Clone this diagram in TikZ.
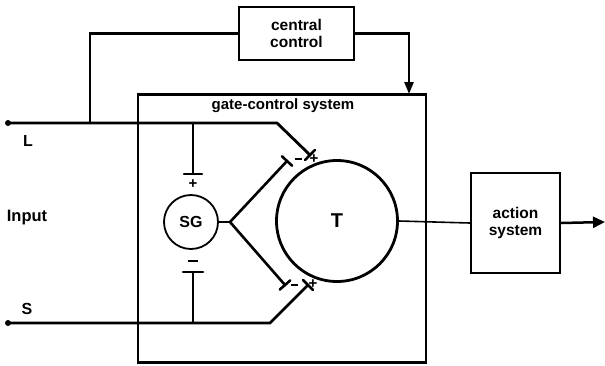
\documentclass[tikz,border=0pt]{standalone}
\usepackage{fontspec}
\setmainfont{Liberation Sans}
\usetikzlibrary{arrows.meta,calc}
\begin{document}
\begin{tikzpicture}[x=1pt,y=-1pt,
  lbl/.style={font=\bfseries\fontsize{15.5}{17}\selectfont, inner sep=0pt, align=center},
  sgn/.style={font=\bfseries\fontsize{15}{15}\selectfont, inner sep=0pt},
  box/.style={draw, line width=2.1pt, inner sep=0pt},
  wire/.style={line width=2.5pt, line join=miter},
  thin wire/.style={line width=1.6pt},
  bar/.style={line width=2.6pt, line cap=round}]
\useasboundingbox (0,0) rectangle (605,365);

% boxes
\node[box, minimum width=115pt, minimum height=53pt, lbl] (cc) at (296.5,33.5) {central\\control};
\node[box, minimum width=288pt, minimum height=268pt] (gcs) at (282,228.5) {};
\node[lbl, font=\bfseries\fontsize{15}{17}\selectfont] (gcsl) at (283,106) {gate-control system};
\node[box, minimum width=89pt, minimum height=100pt, lbl] (act) at (515.5,223) {action\\system};

% cells
\node[circle, draw, line width=1.8pt, minimum size=54pt, inner sep=0pt,
      font=\bfseries\fontsize{16}{16}\selectfont] (SG) at (191,222) {SG};
\node[circle, draw, line width=2.8pt, minimum size=121pt, inner sep=0pt,
      font=\bfseries\fontsize{20}{20}\selectfont] (T) at (337,221) {T};

% input labels
\node[lbl, font=\bfseries\fontsize{16}{16}\selectfont] (Llab) at (28,141) {L};
\node[lbl, font=\bfseries\fontsize{16.5}{17}\selectfont] (inlab) at (27,218) {Input};
\node[lbl, font=\bfseries\fontsize{16}{16}\selectfont] (Slab) at (27,309) {S};

% coordinates
\coordinate (Lin) at (8,123);
\coordinate (Sin) at (8,323);
\coordinate (jL) at (90,123);
\coordinate (Lk) at (277,123);
\coordinate (Sk) at (270,323);
\coordinate (Lend) at (310,155);
\coordinate (Send) at (308,285);
\coordinate (jP) at (193,123);
\coordinate (Ptop) at (193,174);
\coordinate (jN) at (193,323);
\coordinate (Nbot) at (193,272);
\coordinate (fork) at (230,222);
\coordinate (Uend) at (287,161);
\coordinate (Dend) at (285,285);
\coordinate (gin) at (409,94);
\coordinate (out) at (605,222);

% central control feedback
\draw[wire] (cc.west) -| (jL);
\draw[wire, -{Triangle[length=12pt,width=9pt]}] (cc.east) -| (gin);

% L and S fibres
\draw[wire, line width=2.8pt] (Lin) -- (Lk) -- (Lend);
\draw[wire, line width=2.8pt] (Sin) -- (Sk) -- (Send);
\fill (Lin) circle (3pt);
\fill (Sin) circle (3pt);

% branches to SG
\draw[wire] (jP) -- (Ptop);
\draw[bar] ($(Ptop)+(-9,0)$) -- ($(Ptop)+(9,0)$);
\node[sgn] (plus1) at (193,184) {+};
\draw[wire] (jN) -- (Nbot);
\draw[bar] ($(Nbot)+(-10,0)$) -- ($(Nbot)+(10,0)$);
\node[sgn] (minus1) at (193,261) {\rule{10pt}{2.8pt}};

% SG output
\draw[thin wire] (SG.east) -- (fork);
\draw[wire, line width=2.6pt] (fork) -- (Uend);
\draw[wire, line width=2.6pt] (fork) -- (Dend);

% synapse bars
\draw[bar] ($(Uend)!7pt!90:(fork)$) -- ($(Uend)!7pt!-90:(fork)$);
\draw[bar] ($(Dend)!7pt!90:(fork)$) -- ($(Dend)!7pt!-90:(fork)$);
\draw[bar] ($(Lend)!7pt!90:(Lk)$) -- ($(Lend)!7pt!-90:(Lk)$);
\draw[bar] ($(Send)!7pt!90:(Sk)$) -- ($(Send)!7pt!-90:(Sk)$);
\node[sgn] (m2) at (298,159) {\rule{7pt}{2.2pt}};
\node[sgn] (p2) at (314,159) {+};
\node[sgn] (m3) at (294,285) {\rule{7pt}{2.2pt}};
\node[sgn] (p3) at (313,284) {+};

% T output
\draw[thin wire] (T.east) -- (act.west);
\draw[wire, -{Triangle[length=12pt,width=11pt]}] (act.east) -- (out);
\end{tikzpicture}
\end{document}
